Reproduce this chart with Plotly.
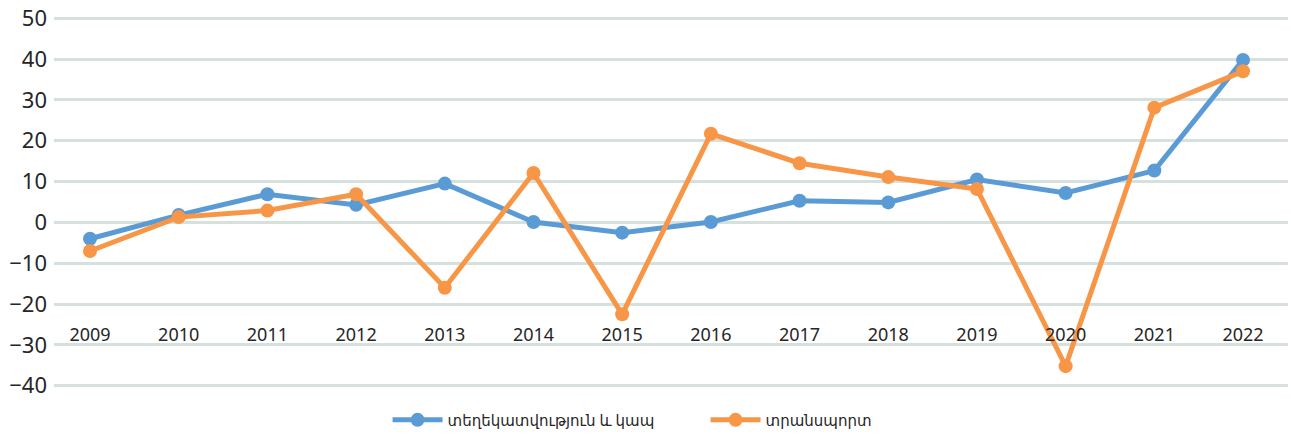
import plotly.graph_objects as go

years = ["2009", "2010", "2011", "2012", "2013", "2014", "2015",
         "2016", "2017", "2018", "2019", "2020", "2021", "2022"]
info_comm = [-4.0, 1.8, 6.9, 4.3, 9.5, 0.1, -2.5, 0.1, 5.3, 4.9, 10.5, 7.2, 12.7, 39.8]
transport = [-7.0, 1.3, 2.9, 6.9, -16.0, 12.1, -22.5, 21.7, 14.5, 11.1, 8.2, -35.2, 28.1, 37.0]
y_ticks = [-40, -30, -20, -10, 0, 10, 20, 30, 40, 50]

name_info = "տեղեկատվություն և կապ"
name_transport = "տրանսպորտ"

BLUE = "#5B9BD5"
ORANGE = "#F79646"
FONT = "Noto Sans, DejaVu Sans, sans-serif"
TEXT = "#262626"

xs = list(range(len(years)))

fig = go.Figure()
fig.add_trace(go.Scatter(
    x=xs, y=info_comm, name=name_info, mode="lines+markers",
    line=dict(color=BLUE, width=5),
    marker=dict(color=BLUE, size=14),
))
fig.add_trace(go.Scatter(
    x=xs, y=transport, name=name_transport, mode="lines+markers",
    line=dict(color=ORANGE, width=5),
    marker=dict(color=ORANGE, size=14),
))

fig.update_layout(
    width=1291, height=439,
    margin=dict(l=54, r=3, t=17, b=52, autoexpand=False),
    paper_bgcolor="white", plot_bgcolor="white",
    font=dict(family=FONT, color=TEXT),
    showlegend=True,
    legend=dict(
        orientation="h", x=0.528, xanchor="center",
        yref="container", y=0.043, yanchor="middle",
        font=dict(size=15, color=TEXT), itemwidth=50,
        entrywidth=253, entrywidthmode="pixels",
    ),
    xaxis=dict(
        range=[-0.406, 13.507],
        tickmode="array", tickvals=xs, ticktext=years,
        showgrid=False, zeroline=False, showline=False, ticks="",
        anchor="free", position=0.176,
        tickfont=dict(size=18, color=TEXT),
    ),
    yaxis=dict(
        range=[-40.3, 50.3],
        tickmode="array", tickvals=y_ticks,
        showgrid=True, gridcolor="#D6E1DE", gridwidth=2.5,
        zeroline=False, showline=False, ticks="",
        tickfont=dict(size=22, color=TEXT),
        ticklabelstandoff=6,
    ),
)

fig.write_html("out.html")
